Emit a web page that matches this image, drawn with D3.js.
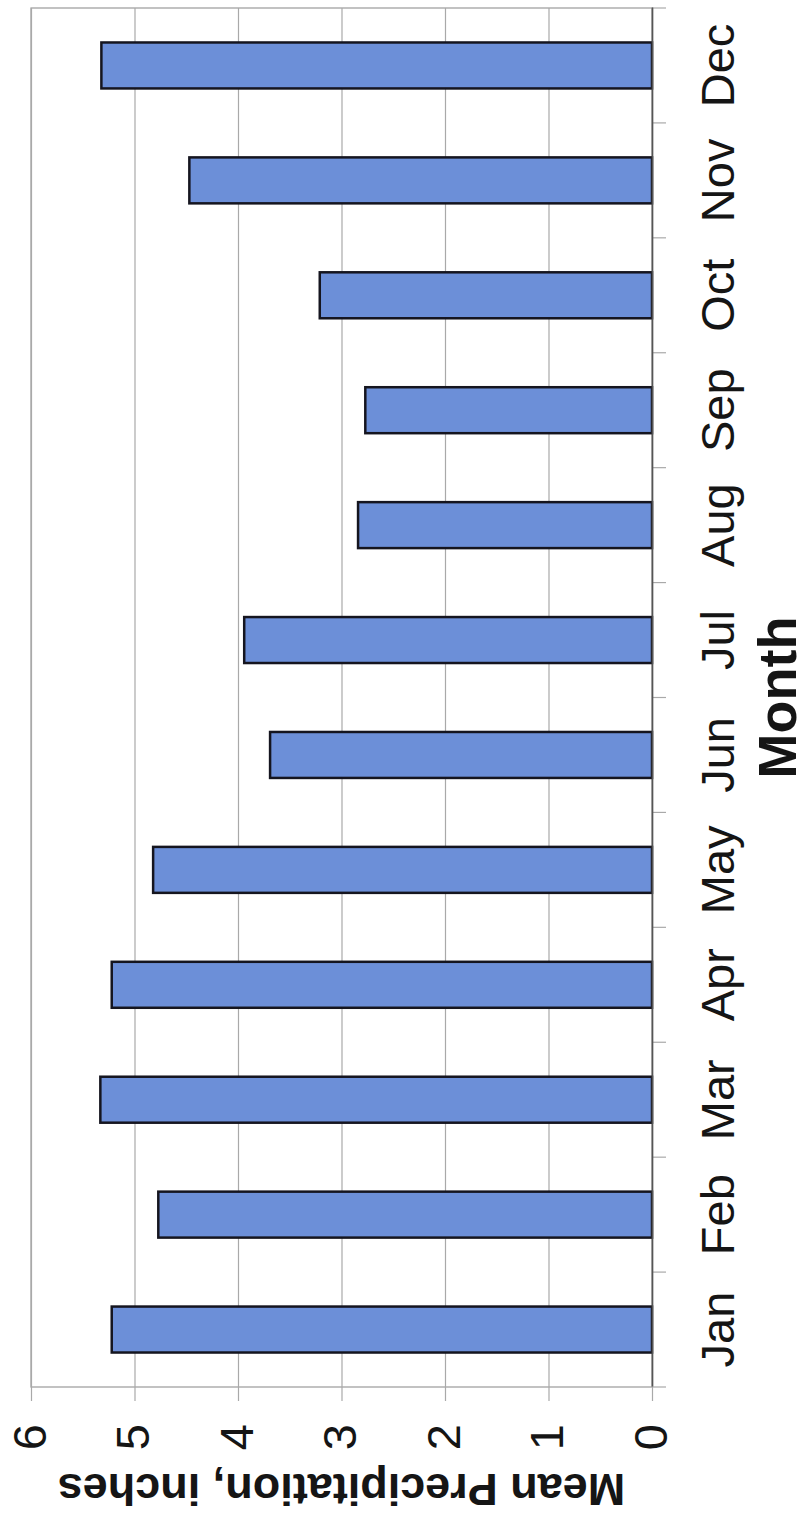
<!DOCTYPE html>
<html>
<head>
<meta charset="utf-8">
<script src="https://cdn.jsdelivr.net/npm/d3@7"></script>
<style>
  body { margin: 0; background: #fff; }
  svg { display: block; }
</style>
</head>
<body>
<script>
const width = 810;
const height = 1522;
// drawn as an ordinary column chart, then turned a quarter turn (printed landscape)
const chartW = height;
const chartH = width;
const margin = {top: 31, right: 8, bottom: 158, left: 135};

const months = ['Jan', 'Feb', 'Mar', 'Apr', 'May', 'Jun', 'Jul', 'Aug', 'Sep', 'Oct', 'Nov', 'Dec'];
const precip = [5.22, 4.77, 5.33, 5.22, 4.82, 3.69, 3.94, 2.84, 2.77, 3.21, 4.47, 5.32];
const yTicks = [0, 1, 2, 3, 4, 5, 6];

const data = months.map((m, i) => ({month: m, value: precip[i]}));

const x = d3.scaleBand()
  .domain(months)
  .range([margin.left, chartW - margin.right])
  .paddingInner(0.6)
  .paddingOuter(0.3);

const y = d3.scaleLinear()
  .domain([0, 6])
  .range([chartH - margin.bottom, margin.top]);

const font = '"Liberation Sans", Arial, sans-serif';
const plotW = chartW - margin.left - margin.right;

const yAxis = g => g
  .attr('transform', `translate(${margin.left},0)`)
  .call(d3.axisLeft(y).tickValues(yTicks).tickFormat(d3.format('d')).tickSize(14).tickPadding(23))
  .attr('font-family', font)
  .attr('font-size', 47)
  .call(g => g.select('.domain').remove())
  .call(g => g.selectAll('.tick line')
    .attr('x1', -14)
    .attr('x2', plotW)
    .attr('stroke', '#a9a9a9')
    .attr('stroke-width', 1.2))
  .call(g => g.selectAll('.tick text').attr('fill', '#151515').attr('dy', '0.3em'));

const xAxis = g => g
  .attr('transform', `translate(0,${chartH - margin.bottom})`)
  .call(d3.axisBottom(x).tickSize(0))
  .attr('font-family', font)
  .attr('font-size', 47)
  .call(g => g.select('.domain').attr('stroke', '#555').attr('stroke-width', 1.6))
  .call(g => g.selectAll('.tick text')
    .attr('y', 82)
    .attr('dy', 0)
    .attr('fill', '#151515'));

const svg = d3.select('body').append('svg')
  .attr('width', width)
  .attr('height', height);

svg.append('rect').attr('width', width).attr('height', height).attr('fill', '#fff');

const g = svg.append('g')
  .attr('transform', `translate(0,${height}) rotate(-90)`);

// plot frame
g.append('rect')
  .attr('x', margin.left)
  .attr('y', margin.top)
  .attr('width', plotW)
  .attr('height', chartH - margin.top - margin.bottom)
  .attr('fill', 'none')
  .attr('stroke', '#9a9a9a')
  .attr('stroke-width', 1.2);

g.append('g').call(yAxis);

// tick marks between categories
const edges = months.map(m => x(m) - x.step() * x.paddingInner() / 2)
  .concat([x(months[months.length - 1]) + x.bandwidth() + x.step() * x.paddingInner() / 2]);

g.append('g')
  .selectAll('line')
  .data(edges)
  .join('line')
  .attr('x1', d => d)
  .attr('x2', d => d)
  .attr('y1', y(0))
  .attr('y2', y(0) + 14)
  .attr('stroke', '#a9a9a9')
  .attr('stroke-width', 1.2);

g.append('g')
  .selectAll('rect')
  .data(data)
  .join('rect')
  .attr('x', d => x(d.month))
  .attr('y', d => y(d.value))
  .attr('width', x.bandwidth())
  .attr('height', d => y(0) - y(d.value))
  .attr('fill', '#6c8fd8')
  .attr('stroke', '#15151f')
  .attr('stroke-width', 2.5);

g.append('g').call(xAxis);

// axis titles
g.append('text')
  .attr('x', (margin.left + chartW - margin.right) / 2)
  .attr('y', 796)
  .attr('text-anchor', 'middle')
  .attr('font-family', font)
  .attr('font-weight', 'bold')
  .attr('font-size', 54)
  .attr('fill', '#151515')
  .text('Month');

g.append('text')
  .attr('transform', `translate(48,${y(3)}) rotate(-90)`)
  .attr('text-anchor', 'middle')
  .attr('font-family', font)
  .attr('font-weight', 'bold')
  .attr('font-size', 45)
  .attr('fill', '#151515')
  .text('Mean Precipitation, inches');
</script>
</body>
</html>
